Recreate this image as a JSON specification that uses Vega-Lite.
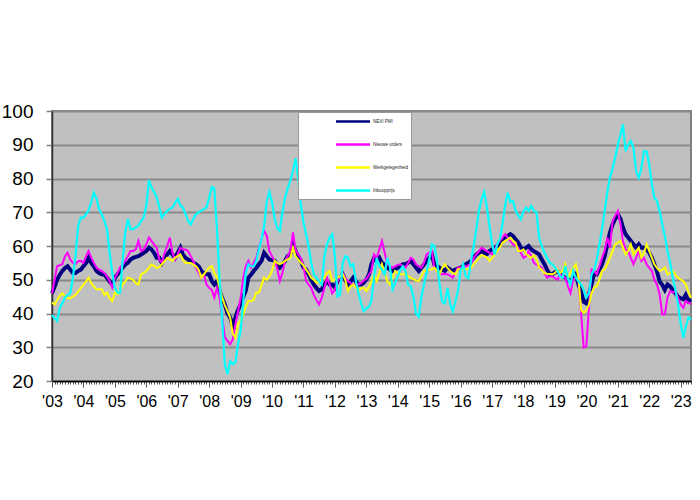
{
  "$schema": "https://vega.github.io/schema/vega-lite/v6.json",
  "width": 639,
  "height": 270,
  "autosize": {"type": "none"},
  "padding": {"left": 52, "top": 111, "right": 9, "bottom": 119},
  "background": "white",
  "config": {
    "view": {"fill": "#c0c0c0", "stroke": "#808080", "strokeWidth": 2},
    "font": "Liberation Sans",
    "axisY": {"grid": true, "gridColor": "#8a8a8a", "gridWidth": 2, "domainColor": "#333333", "domainWidth": 1.5, "tickColor": "#808080", "tickSize": 6, "tickWidth": 1.5, "labelFontSize": 19, "labelColor": "black", "labelPadding": 13, "labelFont": "Liberation Sans"},
    "axisX": {"grid": false, "domainColor": "black", "domainWidth": 1.5, "tickColor": "#555555", "tickWidth": 1, "labelFontSize": 16, "labelColor": "black", "labelFont": "Liberation Sans", "labelPadding": 6}
  },
  "data": {"values": [
    {"date":"2003-01","pmi":46,"orders":46,"jobs":43.2,"prices":39.5},
    {"date":"2003-02","pmi":48,"orders":50,"jobs":42.7,"prices":38.5},
    {"date":"2003-03","pmi":50,"orders":54,"jobs":44,"prices":37.8},
    {"date":"2003-04","pmi":51.5,"orders":54.3,"jobs":45.2,"prices":41.7},
    {"date":"2003-05","pmi":52.6,"orders":54.6,"jobs":46,"prices":43},
    {"date":"2003-06","pmi":53.5,"orders":57,"jobs":45,"prices":44.7},
    {"date":"2003-07","pmi":54,"orders":58,"jobs":44.5,"prices":45.5},
    {"date":"2003-08","pmi":53,"orders":56,"jobs":44.5,"prices":46},
    {"date":"2003-09","pmi":52,"orders":55,"jobs":45,"prices":50.6},
    {"date":"2003-10","pmi":52,"orders":54.6,"jobs":45.5,"prices":57},
    {"date":"2003-11","pmi":52.6,"orders":55.5,"jobs":46.5,"prices":66},
    {"date":"2003-12","pmi":53,"orders":55.6,"jobs":47.5,"prices":68.4},
    {"date":"2004-01","pmi":54,"orders":55,"jobs":48.5,"prices":68.4},
    {"date":"2004-02","pmi":55,"orders":57,"jobs":49.5,"prices":69.4},
    {"date":"2004-03","pmi":56.5,"orders":58.5,"jobs":50.6,"prices":70.5},
    {"date":"2004-04","pmi":55,"orders":56.5,"jobs":49,"prices":73},
    {"date":"2004-05","pmi":54,"orders":55,"jobs":48,"prices":75.8},
    {"date":"2004-06","pmi":52.6,"orders":53.6,"jobs":47.2,"prices":74},
    {"date":"2004-07","pmi":52,"orders":53,"jobs":47.2,"prices":71},
    {"date":"2004-08","pmi":51.6,"orders":52.6,"jobs":47.2,"prices":69.4},
    {"date":"2004-09","pmi":51.5,"orders":52,"jobs":45.5,"prices":67.4},
    {"date":"2004-10","pmi":50.6,"orders":51,"jobs":46.2,"prices":65},
    {"date":"2004-11","pmi":49.5,"orders":49.6,"jobs":44.5,"prices":58},
    {"date":"2004-12","pmi":48.6,"orders":47.6,"jobs":43.7,"prices":52},
    {"date":"2005-01","pmi":50.6,"orders":50.5,"jobs":46.2,"prices":47.5},
    {"date":"2005-02","pmi":51.6,"orders":52,"jobs":45.7,"prices":46.2},
    {"date":"2005-03","pmi":52.5,"orders":53.6,"jobs":47,"prices":46.2},
    {"date":"2005-04","pmi":53.6,"orders":54.5,"jobs":48.6,"prices":55.6},
    {"date":"2005-05","pmi":54.5,"orders":55.6,"jobs":49.5,"prices":64},
    {"date":"2005-06","pmi":55,"orders":57,"jobs":50.6,"prices":68},
    {"date":"2005-07","pmi":56,"orders":58.5,"jobs":50.4,"prices":65},
    {"date":"2005-08","pmi":56.5,"orders":58.5,"jobs":50,"prices":65},
    {"date":"2005-09","pmi":56.8,"orders":59,"jobs":49,"prices":65.5},
    {"date":"2005-10","pmi":57,"orders":61.5,"jobs":48.6,"prices":66},
    {"date":"2005-11","pmi":57.5,"orders":58.5,"jobs":51.6,"prices":67.4},
    {"date":"2005-12","pmi":58,"orders":59,"jobs":52,"prices":68.4},
    {"date":"2006-01","pmi":58.5,"orders":60.5,"jobs":52.6,"prices":72},
    {"date":"2006-02","pmi":59.5,"orders":62.5,"jobs":53.6,"prices":79.5},
    {"date":"2006-03","pmi":59,"orders":61.5,"jobs":54.5,"prices":77.5},
    {"date":"2006-04","pmi":58,"orders":60.5,"jobs":54.1,"prices":76},
    {"date":"2006-05","pmi":56.5,"orders":59.5,"jobs":53.5,"prices":74.5},
    {"date":"2006-06","pmi":56.5,"orders":56,"jobs":53.8,"prices":71.5},
    {"date":"2006-07","pmi":55,"orders":55,"jobs":54.6,"prices":68.4},
    {"date":"2006-08","pmi":56.5,"orders":58,"jobs":55.5,"prices":69.5},
    {"date":"2006-09","pmi":57.5,"orders":60,"jobs":56.5,"prices":70.4},
    {"date":"2006-10","pmi":58.5,"orders":62.5,"jobs":56,"prices":71},
    {"date":"2006-11","pmi":57.5,"orders":58,"jobs":55.6,"prices":71.4},
    {"date":"2006-12","pmi":56.5,"orders":56,"jobs":56.5,"prices":72.8},
    {"date":"2007-01","pmi":58,"orders":57.5,"jobs":57,"prices":74},
    {"date":"2007-02","pmi":59.5,"orders":59.5,"jobs":57.5,"prices":72},
    {"date":"2007-03","pmi":57.5,"orders":59,"jobs":56,"prices":71.4},
    {"date":"2007-04","pmi":56.5,"orders":59,"jobs":55,"prices":69.5},
    {"date":"2007-05","pmi":56,"orders":58.5,"jobs":55,"prices":67.4},
    {"date":"2007-06","pmi":55.6,"orders":57,"jobs":55,"prices":66.4},
    {"date":"2007-07","pmi":55,"orders":55.5,"jobs":54.5,"prices":68},
    {"date":"2007-08","pmi":54.6,"orders":53.6,"jobs":54,"prices":69.4},
    {"date":"2007-09","pmi":54,"orders":52,"jobs":53,"prices":70},
    {"date":"2007-10","pmi":52.6,"orders":50.6,"jobs":50.6,"prices":70.4},
    {"date":"2007-11","pmi":52,"orders":51.6,"jobs":51.6,"prices":71},
    {"date":"2007-12","pmi":51.6,"orders":48.6,"jobs":52.6,"prices":71.4},
    {"date":"2008-01","pmi":51.6,"orders":47.6,"jobs":53.6,"prices":74.3},
    {"date":"2008-02","pmi":49.6,"orders":47,"jobs":54,"prices":77.5},
    {"date":"2008-03","pmi":48.6,"orders":44.7,"jobs":52,"prices":77},
    {"date":"2008-04","pmi":49.6,"orders":47.6,"jobs":50.6,"prices":65},
    {"date":"2008-05","pmi":46.7,"orders":44.7,"jobs":47.6,"prices":50},
    {"date":"2008-06","pmi":44.5,"orders":38.8,"jobs":44.7,"prices":38},
    {"date":"2008-07","pmi":42.7,"orders":33,"jobs":42.5,"prices":25},
    {"date":"2008-08","pmi":40,"orders":31.9,"jobs":40.7,"prices":22},
    {"date":"2008-09","pmi":38.8,"orders":30.9,"jobs":38.8,"prices":25.9},
    {"date":"2008-10","pmi":36.3,"orders":32.3,"jobs":34,"prices":25},
    {"date":"2008-11","pmi":38.8,"orders":36.8,"jobs":32.8,"prices":25.5},
    {"date":"2008-12","pmi":41,"orders":40.5,"jobs":36.8,"prices":30.9},
    {"date":"2009-01","pmi":42.7,"orders":44.7,"jobs":38,"prices":35},
    {"date":"2009-02","pmi":45,"orders":50.6,"jobs":39.8,"prices":43.7},
    {"date":"2009-03","pmi":46.7,"orders":54,"jobs":42,"prices":52},
    {"date":"2009-04","pmi":50.6,"orders":55.6,"jobs":43.7,"prices":54.6},
    {"date":"2009-05","pmi":51.5,"orders":53.6,"jobs":43.7,"prices":54},
    {"date":"2009-06","pmi":52.6,"orders":55,"jobs":44,"prices":54},
    {"date":"2009-07","pmi":53.5,"orders":56.5,"jobs":46.2,"prices":55.5},
    {"date":"2009-08","pmi":54.6,"orders":59.5,"jobs":46.2,"prices":59},
    {"date":"2009-09","pmi":55.6,"orders":62,"jobs":48.5,"prices":62},
    {"date":"2009-10","pmi":58,"orders":64.5,"jobs":50.6,"prices":66},
    {"date":"2009-11","pmi":57,"orders":63,"jobs":50,"prices":73.3},
    {"date":"2009-12","pmi":56,"orders":58.5,"jobs":51,"prices":76},
    {"date":"2010-01","pmi":55.8,"orders":57,"jobs":52.6,"prices":73},
    {"date":"2010-02","pmi":55.6,"orders":55.6,"jobs":55.6,"prices":68},
    {"date":"2010-03","pmi":54.5,"orders":53.5,"jobs":55,"prices":65.4},
    {"date":"2010-04","pmi":53.6,"orders":49.6,"jobs":54.6,"prices":64.4},
    {"date":"2010-05","pmi":54.5,"orders":52,"jobs":55,"prices":70},
    {"date":"2010-06","pmi":55.6,"orders":55.6,"jobs":55.6,"prices":74.3},
    {"date":"2010-07","pmi":57,"orders":57,"jobs":56,"prices":77},
    {"date":"2010-08","pmi":57.5,"orders":58.5,"jobs":56.5,"prices":79.3},
    {"date":"2010-09","pmi":60.5,"orders":64,"jobs":59.5,"prices":82.2},
    {"date":"2010-10","pmi":58.5,"orders":59,"jobs":57,"prices":86},
    {"date":"2010-11","pmi":57,"orders":57.5,"jobs":56,"prices":80},
    {"date":"2010-12","pmi":55.6,"orders":56.5,"jobs":55,"prices":72.3},
    {"date":"2011-01","pmi":53.6,"orders":54,"jobs":54.3,"prices":67},
    {"date":"2011-02","pmi":53,"orders":49.6,"jobs":53,"prices":63.5},
    {"date":"2011-03","pmi":51.6,"orders":48.6,"jobs":52,"prices":60},
    {"date":"2011-04","pmi":50,"orders":47.6,"jobs":50.6,"prices":55},
    {"date":"2011-05","pmi":48.6,"orders":45.5,"jobs":50,"prices":51.6},
    {"date":"2011-06","pmi":47.5,"orders":44,"jobs":49.1,"prices":50.6},
    {"date":"2011-07","pmi":46.7,"orders":42.7,"jobs":49.4,"prices":49.5},
    {"date":"2011-08","pmi":47.2,"orders":44.7,"jobs":50,"prices":48.6},
    {"date":"2011-09","pmi":48.5,"orders":47.5,"jobs":50.6,"prices":57},
    {"date":"2011-10","pmi":49.6,"orders":50.6,"jobs":52,"prices":60.5},
    {"date":"2011-11","pmi":48.6,"orders":48.6,"jobs":52.6,"prices":62.5},
    {"date":"2011-12","pmi":48.6,"orders":46,"jobs":49.6,"prices":63.5},
    {"date":"2012-01","pmi":47.7,"orders":47,"jobs":50,"prices":57},
    {"date":"2012-02","pmi":49.6,"orders":49.6,"jobs":50.6,"prices":45},
    {"date":"2012-03","pmi":50.5,"orders":50.5,"jobs":51,"prices":45.5},
    {"date":"2012-04","pmi":51.6,"orders":52,"jobs":51.6,"prices":55},
    {"date":"2012-05","pmi":50,"orders":50.5,"jobs":50,"prices":57},
    {"date":"2012-06","pmi":48.6,"orders":49.6,"jobs":46.7,"prices":56.5},
    {"date":"2012-07","pmi":49.5,"orders":49,"jobs":48,"prices":54},
    {"date":"2012-08","pmi":50.6,"orders":48.6,"jobs":48.6,"prices":54.6},
    {"date":"2012-09","pmi":49.5,"orders":48.6,"jobs":47.7,"prices":49.6},
    {"date":"2012-10","pmi":48.6,"orders":48.6,"jobs":46.7,"prices":46},
    {"date":"2012-11","pmi":48.6,"orders":49,"jobs":47.5,"prices":43},
    {"date":"2012-12","pmi":49.1,"orders":49.8,"jobs":47.7,"prices":40.7},
    {"date":"2013-01","pmi":50.1,"orders":50.3,"jobs":46.7,"prices":41.5},
    {"date":"2013-02","pmi":51.6,"orders":51.5,"jobs":48,"prices":42},
    {"date":"2013-03","pmi":54.6,"orders":52.6,"jobs":49.6,"prices":44},
    {"date":"2013-04","pmi":56.5,"orders":57.5,"jobs":51.6,"prices":51},
    {"date":"2013-05","pmi":55.6,"orders":56.5,"jobs":49.6,"prices":56.5},
    {"date":"2013-06","pmi":56.5,"orders":59,"jobs":52,"prices":54},
    {"date":"2013-07","pmi":55,"orders":61.5,"jobs":54.6,"prices":53},
    {"date":"2013-08","pmi":54.5,"orders":58,"jobs":52,"prices":51.6},
    {"date":"2013-09","pmi":53.6,"orders":54.6,"jobs":49.6,"prices":56.5},
    {"date":"2013-10","pmi":53,"orders":54,"jobs":48.6,"prices":54},
    {"date":"2013-11","pmi":52.6,"orders":53.6,"jobs":50.5,"prices":47.2},
    {"date":"2013-12","pmi":53,"orders":54,"jobs":52.6,"prices":49},
    {"date":"2014-01","pmi":53.6,"orders":54.4,"jobs":52,"prices":51},
    {"date":"2014-02","pmi":54,"orders":54.6,"jobs":51.6,"prices":53},
    {"date":"2014-03","pmi":54.6,"orders":54,"jobs":51.6,"prices":54},
    {"date":"2014-04","pmi":54.6,"orders":53.6,"jobs":51.6,"prices":52.5},
    {"date":"2014-05","pmi":55,"orders":55,"jobs":51,"prices":48.5},
    {"date":"2014-06","pmi":55.6,"orders":56.5,"jobs":50.6,"prices":48.1},
    {"date":"2014-07","pmi":54.6,"orders":56,"jobs":50.2,"prices":45},
    {"date":"2014-08","pmi":53.6,"orders":54.6,"jobs":49.8,"prices":40},
    {"date":"2014-09","pmi":52.6,"orders":54,"jobs":49.6,"prices":39},
    {"date":"2014-10","pmi":53.5,"orders":53.6,"jobs":51,"prices":44.7},
    {"date":"2014-11","pmi":54.5,"orders":55,"jobs":52.6,"prices":48.6},
    {"date":"2014-12","pmi":55.6,"orders":57.5,"jobs":52.8,"prices":52},
    {"date":"2015-01","pmi":56.5,"orders":58,"jobs":53,"prices":56},
    {"date":"2015-02","pmi":57.5,"orders":58.5,"jobs":53.1,"prices":60.5},
    {"date":"2015-03","pmi":54.6,"orders":53.6,"jobs":53.6,"prices":60},
    {"date":"2015-04","pmi":54,"orders":52.5,"jobs":52.5,"prices":56},
    {"date":"2015-05","pmi":53.6,"orders":52,"jobs":51.6,"prices":48.6},
    {"date":"2015-06","pmi":53,"orders":51.6,"jobs":53.5,"prices":43.5},
    {"date":"2015-07","pmi":52.6,"orders":51.8,"jobs":54.6,"prices":43},
    {"date":"2015-08","pmi":53.6,"orders":51.6,"jobs":53.5,"prices":47.6},
    {"date":"2015-09","pmi":53,"orders":51.2,"jobs":52.6,"prices":43},
    {"date":"2015-10","pmi":52.6,"orders":50.6,"jobs":52,"prices":40.7},
    {"date":"2015-11","pmi":53,"orders":52,"jobs":51.6,"prices":43.5},
    {"date":"2015-12","pmi":53.3,"orders":53.6,"jobs":53.1,"prices":46.7},
    {"date":"2016-01","pmi":53.6,"orders":53.6,"jobs":53.1,"prices":52.6},
    {"date":"2016-02","pmi":54,"orders":53.6,"jobs":53.1,"prices":54.6},
    {"date":"2016-03","pmi":54.6,"orders":54,"jobs":53.1,"prices":51},
    {"date":"2016-04","pmi":55,"orders":54.3,"jobs":53.3,"prices":50.5},
    {"date":"2016-05","pmi":55.6,"orders":54.6,"jobs":53.6,"prices":55.6},
    {"date":"2016-06","pmi":56.5,"orders":56.5,"jobs":54.6,"prices":60},
    {"date":"2016-07","pmi":57.5,"orders":57.5,"jobs":55.5,"prices":65},
    {"date":"2016-08","pmi":58,"orders":58.5,"jobs":56.5,"prices":70.4},
    {"date":"2016-09","pmi":58.5,"orders":59.5,"jobs":57.3,"prices":74},
    {"date":"2016-10","pmi":58,"orders":59,"jobs":57,"prices":76},
    {"date":"2016-11","pmi":57.5,"orders":58.5,"jobs":56.7,"prices":71.4},
    {"date":"2016-12","pmi":58.5,"orders":58,"jobs":55.6,"prices":66},
    {"date":"2017-01","pmi":59,"orders":57.5,"jobs":56.5,"prices":60.5},
    {"date":"2017-02","pmi":59.5,"orders":59,"jobs":57.5,"prices":57.5},
    {"date":"2017-03","pmi":60,"orders":60.5,"jobs":58.5,"prices":60.5},
    {"date":"2017-04","pmi":60.5,"orders":61.5,"jobs":59.5,"prices":62},
    {"date":"2017-05","pmi":61.5,"orders":62.5,"jobs":61,"prices":66.4},
    {"date":"2017-06","pmi":62.5,"orders":63.5,"jobs":61.5,"prices":72},
    {"date":"2017-07","pmi":63,"orders":62.5,"jobs":62,"prices":75.8},
    {"date":"2017-08","pmi":63.5,"orders":61.5,"jobs":62.5,"prices":73},
    {"date":"2017-09","pmi":63,"orders":60.5,"jobs":61.5,"prices":73.3},
    {"date":"2017-10","pmi":62,"orders":60,"jobs":61,"prices":70.4},
    {"date":"2017-11","pmi":61,"orders":59.5,"jobs":58.5,"prices":69},
    {"date":"2017-12","pmi":59.5,"orders":58,"jobs":58.5,"prices":67.9},
    {"date":"2018-01","pmi":59,"orders":56.5,"jobs":59,"prices":70.4},
    {"date":"2018-02","pmi":59.5,"orders":57,"jobs":57.5,"prices":71.4},
    {"date":"2018-03","pmi":60,"orders":58.5,"jobs":57,"prices":70.4},
    {"date":"2018-04","pmi":59,"orders":57,"jobs":56.5,"prices":71.9},
    {"date":"2018-05","pmi":58.5,"orders":55,"jobs":57.3,"prices":70.4},
    {"date":"2018-06","pmi":58,"orders":54.5,"jobs":56,"prices":70},
    {"date":"2018-07","pmi":57.5,"orders":54,"jobs":53.6,"prices":62.5},
    {"date":"2018-08","pmi":56,"orders":53.6,"jobs":53,"prices":60},
    {"date":"2018-09","pmi":54.6,"orders":52,"jobs":52,"prices":58},
    {"date":"2018-10","pmi":53,"orders":50.6,"jobs":51.8,"prices":56.5},
    {"date":"2018-11","pmi":51.6,"orders":51,"jobs":51.7,"prices":55},
    {"date":"2018-12","pmi":51.6,"orders":51,"jobs":51.6,"prices":54.6},
    {"date":"2019-01","pmi":52.2,"orders":50.5,"jobs":52,"prices":53.6},
    {"date":"2019-02","pmi":52.6,"orders":50,"jobs":53.1,"prices":52.6},
    {"date":"2019-03","pmi":51.6,"orders":51.6,"jobs":52,"prices":51},
    {"date":"2019-04","pmi":51,"orders":51,"jobs":52.6,"prices":50.6},
    {"date":"2019-05","pmi":50.6,"orders":50.6,"jobs":54.6,"prices":54.1},
    {"date":"2019-06","pmi":50,"orders":48,"jobs":50.6,"prices":50.5},
    {"date":"2019-07","pmi":49.6,"orders":46,"jobs":52,"prices":48.6},
    {"date":"2019-08","pmi":50.5,"orders":50,"jobs":53.5,"prices":52.6},
    {"date":"2019-09","pmi":51.6,"orders":50.6,"jobs":54.6,"prices":50.6},
    {"date":"2019-10","pmi":48.6,"orders":49.6,"jobs":50.6,"prices":49.5},
    {"date":"2019-11","pmi":46.5,"orders":40,"jobs":41,"prices":48.6},
    {"date":"2019-12","pmi":43.5,"orders":29.9,"jobs":40.2,"prices":47},
    {"date":"2020-01","pmi":43,"orders":30.4,"jobs":41,"prices":44.7},
    {"date":"2020-02","pmi":45.7,"orders":42,"jobs":42.7,"prices":46},
    {"date":"2020-03","pmi":48.6,"orders":53,"jobs":46,"prices":51.6},
    {"date":"2020-04","pmi":52,"orders":52.6,"jobs":47.7,"prices":53},
    {"date":"2020-05","pmi":51.6,"orders":51.6,"jobs":48.1,"prices":56},
    {"date":"2020-06","pmi":53,"orders":54,"jobs":50,"prices":60.5},
    {"date":"2020-07","pmi":54.6,"orders":56.5,"jobs":52.6,"prices":65},
    {"date":"2020-08","pmi":57,"orders":58.5,"jobs":53.1,"prices":70.4},
    {"date":"2020-09","pmi":60.5,"orders":62.5,"jobs":54.6,"prices":76},
    {"date":"2020-10","pmi":64,"orders":59.5,"jobs":56.5,"prices":80.2},
    {"date":"2020-11","pmi":66.4,"orders":67.4,"jobs":58.5,"prices":83},
    {"date":"2020-12","pmi":68,"orders":69,"jobs":60.5,"prices":86.2},
    {"date":"2021-01","pmi":69.4,"orders":70.4,"jobs":61,"prices":90.1},
    {"date":"2021-02","pmi":68,"orders":66.4,"jobs":61.5,"prices":93},
    {"date":"2021-03","pmi":65.5,"orders":61.5,"jobs":59.5,"prices":96},
    {"date":"2021-04","pmi":63.5,"orders":59,"jobs":57.5,"prices":88.1},
    {"date":"2021-05","pmi":62.5,"orders":58.5,"jobs":58.5,"prices":90},
    {"date":"2021-06","pmi":61.5,"orders":56.5,"jobs":60.5,"prices":91.1},
    {"date":"2021-07","pmi":60.5,"orders":54.6,"jobs":57.5,"prices":89.1},
    {"date":"2021-08","pmi":59.5,"orders":56.5,"jobs":58.5,"prices":82.2},
    {"date":"2021-09","pmi":60.5,"orders":58.5,"jobs":59.5,"prices":80.2},
    {"date":"2021-10","pmi":59.5,"orders":55.6,"jobs":56.5,"prices":83},
    {"date":"2021-11","pmi":59.5,"orders":56.5,"jobs":58,"prices":88.1},
    {"date":"2021-12","pmi":59,"orders":54.6,"jobs":60.5,"prices":88},
    {"date":"2022-01","pmi":58,"orders":53.5,"jobs":58.5,"prices":84},
    {"date":"2022-02","pmi":56.5,"orders":52.6,"jobs":56.5,"prices":78.3},
    {"date":"2022-03","pmi":54.6,"orders":50,"jobs":54.6,"prices":74.3},
    {"date":"2022-04","pmi":52.5,"orders":48.6,"jobs":53.5,"prices":73.3},
    {"date":"2022-05","pmi":49.5,"orders":45.7,"jobs":52.6,"prices":70.4},
    {"date":"2022-06","pmi":48.5,"orders":39.8,"jobs":53,"prices":66.4},
    {"date":"2022-07","pmi":47,"orders":39.8,"jobs":53.6,"prices":63},
    {"date":"2022-08","pmi":48.6,"orders":44.7,"jobs":51.6,"prices":58.5},
    {"date":"2022-09","pmi":48,"orders":46.7,"jobs":52,"prices":55},
    {"date":"2022-10","pmi":47,"orders":46.2,"jobs":52.6,"prices":50.6},
    {"date":"2022-11","pmi":46,"orders":46.7,"jobs":51.5,"prices":47},
    {"date":"2022-12","pmi":45,"orders":44.7,"jobs":50.6,"prices":42.7},
    {"date":"2023-01","pmi":44.5,"orders":42.7,"jobs":50,"prices":37},
    {"date":"2023-02","pmi":44.2,"orders":41.7,"jobs":49.6,"prices":32.8},
    {"date":"2023-03","pmi":45.5,"orders":43.7,"jobs":48.6,"prices":36},
    {"date":"2023-04","pmi":43.7,"orders":43.2,"jobs":46.5,"prices":38.8},
    {"date":"2023-05","pmi":44.2,"orders":42.7,"jobs":44.7,"prices":38.3}
  ]},
  "encoding": {
    "x": {
      "field": "date", "type": "temporal",
      "scale": {"type": "utc", "nice": false, "domain": [{"year": 2003, "month": 1, "date": 1, "utc": true}, {"year": 2023, "month": 5, "date": 1, "utc": true}]},
      "axis": {
        "title": null,
        "tickCount": {"interval": "month", "step": 1},
        "labelExpr": "utcmonth(datum.value) == 0 ? \"'\" + utcFormat(datum.value, '%y') : ''",
        "labelOverlap": false, "labelFlush": false, "labelBound": false,
        "tickSize": {"condition": {"test": "utcmonth(datum.value) == 0", "value": 6}, "value": 3}
      }
    }
  },
  "layer": [
    {
      "data": {"values": [{}]},
      "mark": {"type": "rule", "color": "#a6a6a6", "strokeWidth": 1},
      "encoding": {
        "x": {"datum": {"year": 2001, "month": 1, "date": 1, "utc": true}, "type": "temporal"},
        "x2": {"datum": {"year": 2024, "month": 6, "date": 1, "utc": true}},
        "y": {"datum": 110.67, "type": "quantitative", "scale": {"domain": [20, 100], "nice": false, "zero": false}, "axis": {"title": null, "values": [20, 30, 40, 50, 60, 70, 80, 90, 100]}}
      }
    },
    {
      "mark": {"type": "line", "strokeWidth": 4},
      "encoding": {
        "y": {"field": "pmi", "type": "quantitative", "scale": {"domain": [20, 100], "nice": false, "zero": false}, "axis": {"title": null, "values": [20, 30, 40, 50, 60, 70, 80, 90, 100]}},
        "color": {"datum": "NEVI PMI", "type": "nominal",
          "scale": {"domain": ["NEVI PMI", "Nieuwe orders", "Werkgelegenheid", "Inkoopprijs"], "range": ["#000080", "#ff00ff", "#ffff00", "#00ffff"]},
          "legend": {"title": null, "orient": "none", "legendX": 246, "legendY": 1, "fillColor": "white", "strokeColor": "#999999", "padding": 3, "symbolType": "M-3.4,0H3.4", "symbolSize": 100, "symbolStrokeWidth": 2.5, "symbolOffset": 45.5, "labelOffset": 13.5, "rowPadding": 11, "labelFontSize": 4.5, "labelFont": "Liberation Sans", "labelColor": "#222222", "labelExpr": "datum.label + '\u2003\u2003\u2003\u2003\u2003\u2003\u2003'"}}
      }
    },
    {
      "mark": {"type": "line", "strokeWidth": 2},
      "encoding": {
        "y": {"field": "orders", "type": "quantitative", "scale": {"domain": [20, 100], "nice": false, "zero": false}, "axis": {"title": null, "values": [20, 30, 40, 50, 60, 70, 80, 90, 100]}},
        "color": {"datum": "Nieuwe orders", "type": "nominal"}
      }
    },
    {
      "mark": {"type": "line", "strokeWidth": 2},
      "encoding": {
        "y": {"field": "jobs", "type": "quantitative", "scale": {"domain": [20, 100], "nice": false, "zero": false}, "axis": {"title": null, "values": [20, 30, 40, 50, 60, 70, 80, 90, 100]}},
        "color": {"datum": "Werkgelegenheid", "type": "nominal"}
      }
    },
    {
      "mark": {"type": "line", "strokeWidth": 2.2},
      "encoding": {
        "y": {"field": "prices", "type": "quantitative", "scale": {"domain": [20, 100], "nice": false, "zero": false}, "axis": {"title": null, "values": [20, 30, 40, 50, 60, 70, 80, 90, 100]}},
        "color": {"datum": "Inkoopprijs", "type": "nominal"}
      }
    }
  ]
}
